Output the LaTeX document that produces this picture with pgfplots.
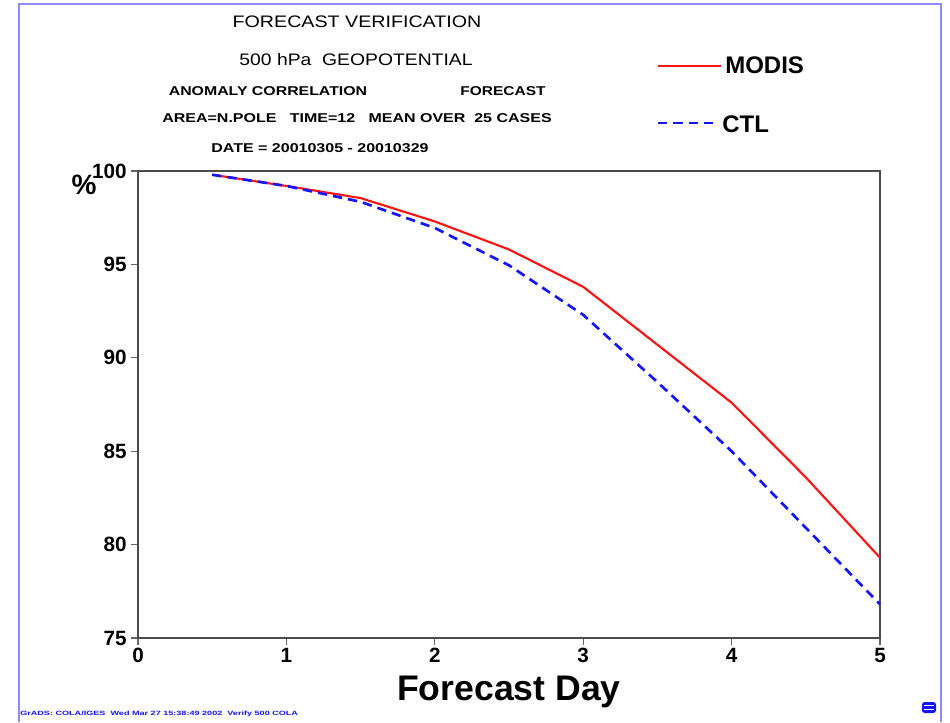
\documentclass[border=0pt]{standalone}
\usepackage{pgfplots}
\pgfplotsset{compat=1.18}
\usepackage{fontspec}
\setmainfont{Liberation Sans}
\definecolor{framecol}{RGB}{140,140,255}
\definecolor{modisred}{RGB}{255,20,20}
\definecolor{ctlblue}{RGB}{20,20,255}
\newcommand{\fs}[1]{\fontsize{#1}{#1}\selectfont}
\begin{document}
\begin{tikzpicture}
\useasboundingbox (0,0) rectangle (712.5pt,541.5pt);
\begin{axis}[
  at={(103.5pt,63pt)}, anchor=south west,
  scale only axis, width=556.5pt, height=350.25pt,
  xmin=0, xmax=5, ymin=75, ymax=100,
  xtick={0,1,2,3,4,5}, ytick={75,80,85,90,95,100},
  tick align=outside, tick pos=left,
  major tick length=5pt,
  axis line style={black!70, line width=1.2pt},
  every tick/.style={black!60, line width=0.9pt},
  /pgf/number format/assume math mode=true,
  ticklabel style={font=\bfseries\fs{15.5}},
  xticklabel style={yshift=1pt},
  clip=false,
]
\addplot[modisred, line width=1.6pt] coordinates {
 (0.5,99.8) (1,99.2) (1.5,98.55) (2,97.3) (2.5,95.8) (3,93.8) (3.5,90.7) (4,87.6) (4.5,83.6) (5,79.3)};
\addplot[ctlblue, line width=2pt, dash pattern=on 7pt off 4.5pt] coordinates {
 (0.5,99.8) (1,99.2) (1.5,98.35) (2,96.95) (2.5,94.95) (3,92.3) (3.5,88.7) (4,85.0) (4.5,80.9) (5,76.8)};
\end{axis}
\begin{scope}[x=0.75pt,y=-0.75pt,yshift=541.5pt]
\draw[framecol, line width=2.2pt] (19,722) -- (19,4) -- (941,4) -- (941,722);
% titles
\node[font=\fs{12.5}] at (357,22) {\scalebox{1.18}[1]{FORECAST VERIFICATION}};
\node[font=\fs{12.5}] at (356,60) {\scalebox{1.16}[1]{500 hPa \ GEOPOTENTIAL}};
\node[font=\bfseries\fs{9.6}] at (268,91) {\scalebox{1.24}[1]{ANOMALY CORRELATION}};
\node[font=\bfseries\fs{9.6}] at (503,91) {\scalebox{1.21}[1]{FORECAST}};
\node[font=\bfseries\fs{9.6}] at (357,118) {\scalebox{1.25}[1]{AREA=N.POLE \ \ TIME=12 \ \ MEAN OVER \ 25 CASES}};
\node[font=\bfseries\fs{9.6}] at (320,148) {\scalebox{1.25}[1]{DATE = 20010305 - 20010329}};
% legend
\draw[modisred, line width=1.6pt] (658,66) -- (721,66);
\node[anchor=west, font=\bfseries\fs{18}, inner sep=0pt] at (725,65) {MODIS};
\draw[ctlblue, line width=2pt, dash pattern=on 7pt off 4.5pt] (658,123) -- (719,123);
\node[anchor=west, font=\bfseries\fs{18}, inner sep=0pt] at (722,124) {CTL};
% axis labels
\node[font=\bfseries\fs{21}] at (84,185) {\%};
\node[font=\bfseries\fs{26.7}] at (509,692) {Forecast Day};
% footer
\node[anchor=west, text=ctlblue, font=\bfseries\fs{4.6}, inner sep=0pt] at (20,714) {\scalebox{1.48}[1]{GrADS: COLA/IGES \ Wed Mar 27 15:38:49 2002 \ Verify 500 COLA}};
\fill[ctlblue, rounded corners=2pt] (922,702) rectangle (936,713);
\draw[white, line width=0.6pt] (924,705.5) -- (934,705.5) (924,709.5) -- (934,709.5);
\end{scope}
\end{tikzpicture}
\end{document}
